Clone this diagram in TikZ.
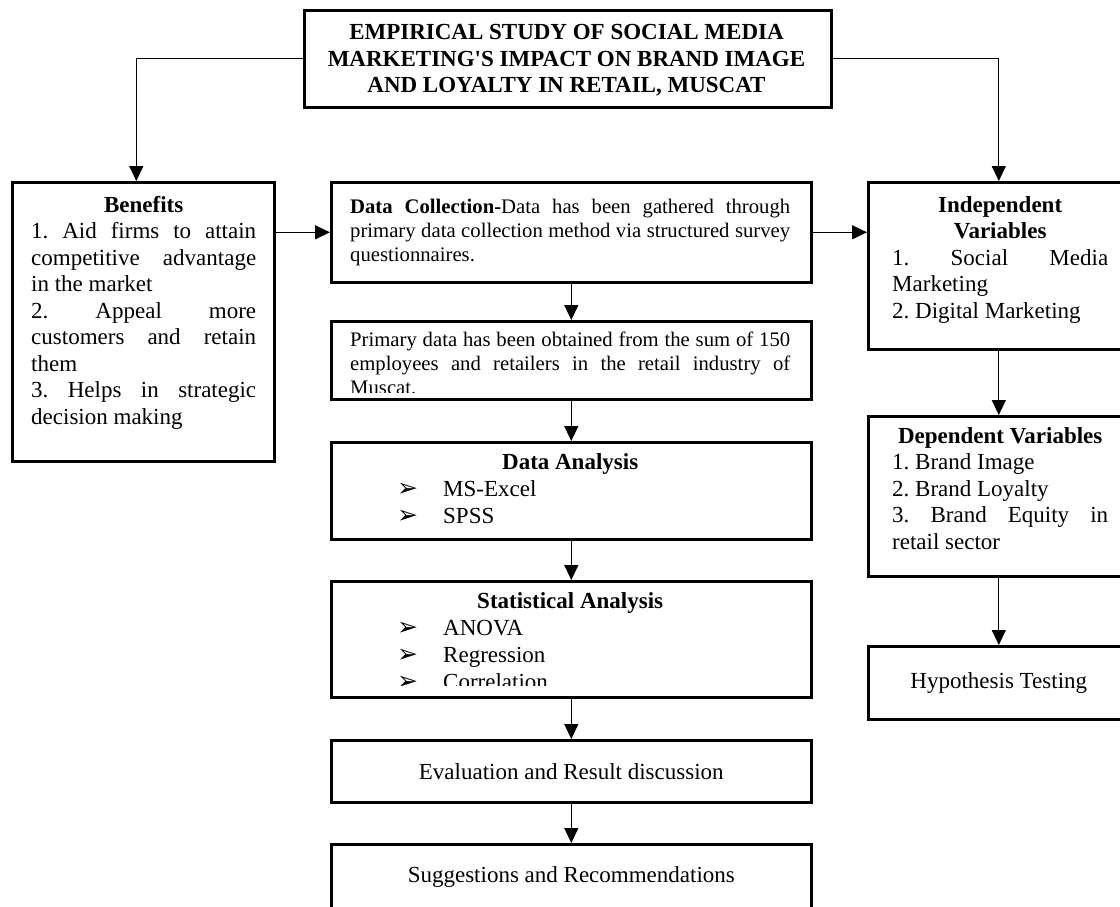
\documentclass[tikz,border=0pt]{standalone}
\usepackage{fontspec}
\setmainfont{Liberation Serif}
\newfontfamily\symfont{DejaVu Sans}
\usepackage{tikz}
\usetikzlibrary{positioning, arrows.meta}
\setlength{\parindent}{0pt}
\hyphenpenalty=10000
\tolerance=10000
\frenchspacing
\newcommand{\bigtxt}{\fontsize{23}{26.5}\selectfont}
\newcommand{\smalltxt}{\fontsize{20.7}{24}\selectfont}
\newcommand{\itembul}{\makebox[46pt][l]{\symfont\fontsize{25}{25}\selectfont ➢}}

\begin{document}
\begin{tikzpicture}[x=1pt, y=-1pt,
    box/.style={draw, line width=2.6pt, anchor=north west, inner sep=0pt},
    txt/.style={anchor=north west, inner sep=0pt, align=justify, font=\bigtxt},
    arr/.style={-{Triangle[length=15pt,width=14pt]}, line width=1.3pt}]
    \useasboundingbox (0,0) rectangle (1120,907);
    % Title
    \node[box, minimum width=527, minimum height=97] (title) at (303,9) {};
    \node[anchor=north, inner sep=0pt, align=center, font=\bigtxt\bfseries] (titletxt) at (566.5,24.5)
        {EMPIRICAL STUDY OF SOCIAL MEDIA\\MARKETING\textquotesingle S IMPACT ON BRAND IMAGE\\AND LOYALTY IN RETAIL, MUSCAT};
    % Left column
    \node[box, minimum width=262, minimum height=279] (ben) at (11,181) {};
    \node[txt, text width=225] (bentxt) at (31,195.7)
        {{\centering\bfseries Benefits\par}
         1. Aid firms to attain\linebreak competitive advantage\linebreak in the market\\
         2. Appeal more\linebreak customers and retain\linebreak them\\
         3. Helps in strategic\linebreak decision making};
    % Middle column
    \node[box, minimum width=480, minimum height=100] (dc) at (330,181) {};
    \node[txt, text width=440, font=\smalltxt] (dctxt) at (350,199)
        {\textbf{Data Collection-}Data has been gathered through\linebreak primary data collection method via structured survey\linebreak questionnaires.};
    \node[box, minimum width=480, minimum height=78] (prim) at (330,320) {};
    \begin{scope}
        \clip (330,320) rectangle (810,392);
        \node[txt, text width=440, font=\smalltxt] (primtxt) at (350,331.5)
            {Primary data has been obtained from the sum of 150\linebreak employees and retailers in the retail industry of\linebreak Muscat.};
    \end{scope}
    \node[box, minimum width=480, minimum height=97] (da) at (330,441) {};
    \node[txt, text width=346, font=\fontsize{23}{27}\selectfont] (datxt) at (397,453.3)
        {{\centering\bfseries Data Analysis\par}
         \itembul MS-Excel\\ \itembul SPSS};
    \node[box, minimum width=480, minimum height=116] (sa) at (330,580) {};
    \begin{scope}
        \clip (330,580) rectangle (810,685);
        \node[txt, text width=346, font=\fontsize{23}{27}\selectfont] (satxt) at (397,592.3)
            {{\centering\bfseries Statistical Analysis\par}
             \itembul ANOVA\\ \itembul Regression\\ \itembul Correlation};
    \end{scope}
    \node[box, minimum width=480, minimum height=62, font=\bigtxt] (ev) at (330,739) {Evaluation and Result discussion};
    \node[box, minimum width=480, minimum height=66, font=\bigtxt] (sug) at (330,843) {Suggestions and Recommendations};
    % Right column
    \node[box, minimum width=261, minimum height=167] (ind) at (867,181) {};
    \node[txt, text width=216] (indtxt) at (892,196)
        {{\centering\bfseries Independent\\Variables\par}
         1. Social Media\linebreak Marketing\\
         2. Digital Marketing};
    \node[box, minimum width=261, minimum height=160] (dep) at (867,415) {};
    \node[txt, text width=216] (deptxt) at (892,427)
        {{\centering\bfseries Dependent Variables\par}
         1. Brand Image\\ 2. Brand Loyalty\\ 3. Brand Equity in\linebreak retail sector};
    \node[box, minimum width=261, minimum height=73, font=\bigtxt] (hyp) at (867,645) {Hypothesis Testing};
    % Connectors
    \draw[arr] (title.west) -| ([xshift=-7]ben.north);
    \draw[arr] (title.east) -| (ind.north);
    \draw[arr] (ben.east |- dc.west) -- (dc.west);
    \draw[arr] (dc.east) -- (dc.east -| ind.west);
    \foreach \a/\b in {dc/prim, prim/da, da/sa, sa/ev, ev/sug, ind/dep, dep/hyp}
        \draw[arr] (\a) -- (\b);
\end{tikzpicture}
\end{document}
